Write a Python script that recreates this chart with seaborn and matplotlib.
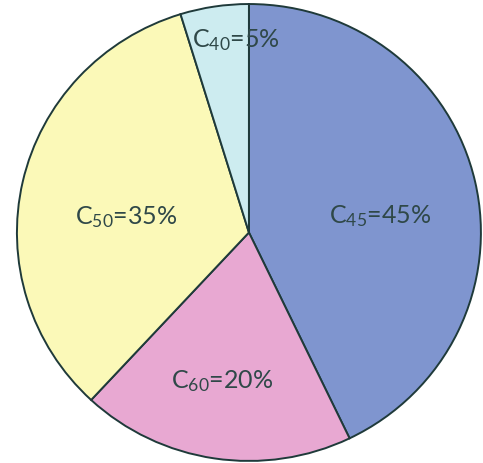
import matplotlib
matplotlib.use("Agg")
import matplotlib.pyplot as plt
import seaborn as sns

# -----------------------------
# Data
# -----------------------------
labels = ["C$_{45}$=45%", "C$_{60}$=20%", "C$_{50}$=35%", "C$_{40}$=5%"]
shares = [45, 20, 35, 5]
colors = ["#7f95cf", "#e8a8d2", "#fbf9b8", "#cdecf0"]

# -----------------------------
# Theme
# -----------------------------
sns.set_theme(style="white")
plt.rcParams["font.family"] = ["Lato", "DejaVu Sans"]
plt.rcParams["mathtext.default"] = "regular"

fig = plt.figure(figsize=(4.83, 4.64), dpi=100)
ax = fig.add_axes([0, 0, 1, 1])

wedges, _ = ax.pie(
    shares,
    colors=colors,
    startangle=90,
    counterclock=False,
    radius=1.0,
    wedgeprops={"edgecolor": "#1f3a3a", "linewidth": 1.4},
)

ax.set_aspect("auto")
ax.set_xlim(-1.073, 1.009)
ax.set_ylim(-1.009, 1.022)
ax.axis("off")

# label positions inside each slice
label_pos = [(0.565, 0.077), (-0.116, -0.645), (-0.53, 0.072), (-0.056, 0.847)]
for (x, y), text in zip(label_pos, labels):
    ax.text(x, y, text, ha="center", va="center", fontsize=18,
            color="#2f4848")

plt.savefig("out.png", dpi=100)
plt.close()
